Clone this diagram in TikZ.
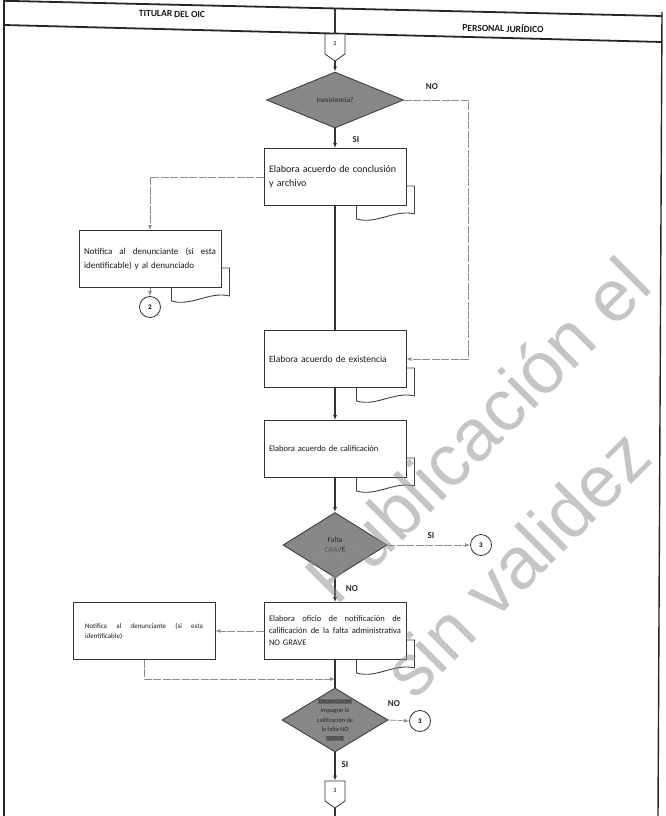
\documentclass[tikz,border=0pt]{standalone}
\usepackage{fontspec}
\setmainfont{Carlito}
\newfontfamily\wmfont{Liberation Sans}
\usetikzlibrary{shapes.geometric,shapes.symbols,arrows.meta,calc}

% a line spread to the full text width (justified line)
\newcommand\jline[1]{\makebox[\hsize][s]{\spaceskip=0.25em plus 1fil\relax #1}}
% blacked-out word
\newcommand\redact[1]{{\setlength\fboxsep{0.6pt}\colorbox{black!60}{\textcolor{black!78}{#1}}}}
% second page peeking out below a document box
\newcommand\doctail[1]{\draw[tail] ($(#1.south east)+(-50,0)$) -- ++(0,13)
  .. controls +(20,6) and +(-20,-5) .. ($(#1.south east)+(8,8)$)
  -- ($(#1.south east)+(8,-20)$) -- ($(#1.south east)+(0,-20)$);}

\begin{document}
\begin{tikzpicture}[x=1pt,y=-1pt,
  frame/.style={black!85, line width=1.4pt},
  headline/.style={black!85, line width=1.8pt},
  mainline/.style={black!80, line width=1.1pt},
  flow/.style={mainline, -{Latex[length=5pt,width=4pt]}},
  branch/.style={black!45, line width=0.75pt, dash pattern=on 8pt off 1.5pt, -{Latex[length=5pt,width=4pt]}},
  tail/.style={black!75, line width=0.9pt},
  proc/.style={draw=black!80, line width=0.9pt, fill=white, minimum width=142pt, minimum height=57pt,
    inner sep=5pt, text width=132pt, align=left, text=black!90, font=\fontsize{9}{14}\selectfont},
  decision/.style={diamond, draw=black!75, line width=0.9pt, fill=black!47, inner sep=0pt, align=center, text=black!85},
  dtext/.style={font=\fontsize{6.3}{9.3}\selectfont, align=center, inner sep=0pt, text=black!85},
  conn/.style={circle, draw=black!80, line width=0.8pt, fill=white, minimum size=21pt, inner sep=0pt,
    font=\fontsize{7}{8}\selectfont\bfseries},
  offpage/.style={signal, signal to=south, signal from=nowhere, signal pointer angle=110,
    draw=black!80, line width=0.8pt, fill=white, minimum width=20pt, minimum height=21pt, inner sep=0pt,
    font=\fontsize{6}{7}\selectfont},
  lbl/.style={font=\fontsize{9}{10}\selectfont\bfseries, text=black!85},
  title/.style={font=\fontsize{9.5}{10}\selectfont\bfseries, text=black!90, rotate=-1.4},
  wm/.style={font=\wmfont\fontsize{73}{80}\selectfont, text=black!45, opacity=0.5, rotate=45,
    anchor=base west, inner sep=0pt},
]
\useasboundingbox (0,0) rectangle (666,816);

% page frame and lane header
\draw[frame] (4,0) -- (4,816);
\draw[frame] (662,12) -- (658,816);
\draw[headline] (4,0.8) -- (662,16);
\draw[headline] (4,25) -- (662,42);
\node[title] (tit1) at (172,14) {TITULAR DEL OIC};
\node[title] (tit2) at (503,28) {PERSONAL JURÍDICO};
\coordinate (lanetop) at (335,8);

% main column
\node[offpage] (topc) at (335,44) {2};
\node[decision, minimum width=137pt, minimum height=56pt, font=\fontsize{7}{8}\selectfont] (d1) at (335,100) {Inexistencia?};
\node[proc, font=\fontsize{10}{14}\selectfont] (b1) at (335,177) {Elabora acuerdo de conclusión\\ y archivo};
\node[proc, font=\fontsize{9.5}{12}\selectfont] (b3) at (335,359) {Elabora acuerdo de existencia};
\node[proc, font=\fontsize{8.5}{12}\selectfont] (b4) at (335,449) {Elabora acuerdo de calificación};
\node[decision, minimum width=104pt, minimum height=65pt, font=\fontsize{7.5}{10}\selectfont] (d2) at (335,545) {Falta\\ GRAVE};
\node[proc, font=\fontsize{8.5}{12}\selectfont] (b5) at (335,631)
  {\jline{Elabora oficio de notificación de}\\ \jline{calificación de la falta administrativa}\\ NO GRAVE};
\coordinate (join) at (335,679);
\node[decision, minimum width=106pt, minimum height=64pt,
  label={[dtext]center:{\redact{Denunciante}\\ impugne la\\ calificación de\\ la falta NO\\ \redact{GRAVE}}}] (d3) at (335,720) {};
\node[offpage] (botc) at (335,791) {3};
\coordinate (pageend) at (335,816);

% left column and connectors
\node[proc, font=\fontsize{9}{14.5}\selectfont] (b2) at (150,259)
  {\jline{Notifica al denunciante (si esta}\\ identificable) y al denunciado};
\node[conn] (c2) at (150,307) {2};
\node[proc, text width=118pt, font=\fontsize{7}{10}\selectfont] (b6) at (144,631)
  {\jline{Notifica al denunciante (si esta}\\ identificable)};
\node[conn] (c3a) at (481,545) {3};
\node[conn] (c3b) at (420,721) {3};

% document tails
\doctail{b1}
\doctail{b2}
\doctail{b3}
\doctail{b4}
\doctail{b5}

% main flow
\draw[mainline] (lanetop) -- (topc.north);
\draw[flow] (topc.south) -- (d1.north);
\draw[flow] (d1.south) -- (b1.north);
\draw[mainline] (b1.south) -- (b3.north);
\draw[flow] (b3.south) -- (b4.north);
\draw[flow] (b4.south) -- (d2.north);
\draw[flow] (d2.south) -- (b5.north);
\draw[mainline] (b5.south) -- (d3.north);
\draw[flow] (d3.south) -- (botc.north);
\draw[mainline] (botc.south) -- (pageend);

% branches
\coordinate (nobend) at (468,100);
\draw[branch] (d1.east) -- (nobend) |- (b3.east);
\draw[branch] (b1.west) -| (b2.north);
\draw[branch] (b2.south) -- (c2.north);
\draw[branch] (d2.east) -- (c3a.west);
\draw[branch] (b5.west) -- (b6.east);
\draw[branch] (b6.south) |- (join);
\draw[branch] (d3.east) -- (c3b.west);

% branch labels
\node[lbl] (l1) at (432,87) {NO};
\node[lbl] (l2) at (356,140) {SI};
\node[lbl] (l3) at (431,536) {SI};
\node[lbl] (l4) at (352,589) {NO};
\node[lbl] (l5) at (394,704) {NO};
\node[lbl] (l6) at (345,765) {SI};

% watermark
\begin{scope}
  \clip (0,0) rectangle (666,816);
  \node[wm] (wm1) at (336,608) {Publicación el};
  \node[wm] (wm2) at (414,702) {sin validez};
\end{scope}
\end{tikzpicture}
\end{document}
